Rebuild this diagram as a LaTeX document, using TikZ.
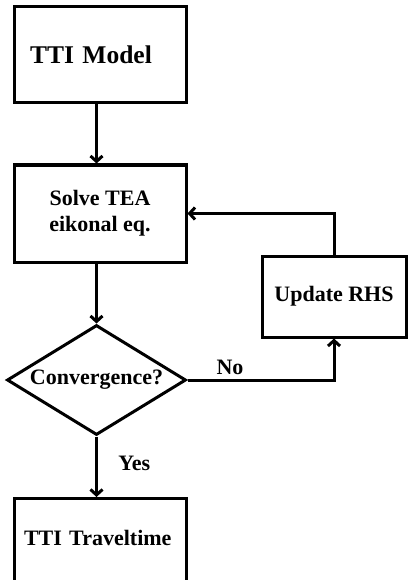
\documentclass[tikz,border=0pt]{standalone}
\usepackage{fontspec}
\setmainfont{Liberation Serif}
\usetikzlibrary{shapes.geometric,arrows.meta,positioning,calc}

\begin{document}
\begin{tikzpicture}[x=1pt, y=1pt, line width=3pt,
    font=\bfseries\fontsize{22pt}{26pt}\selectfont,
    >={Straight Barb[length=5.5pt,width=12pt]}]
   \useasboundingbox (0,0) rectangle (407,-580);
   \begin{scope}[every node/.style={draw,rectangle,inner sep=0pt,minimum width=172pt}]
    \node (model) [minimum height=96pt, text width=140pt, align=left,
                   font=\bfseries\fontsize{25.5pt}{30pt}\selectfont] at (100,-55) {TTI Model};
    \node (solve) [minimum height=97pt, align=center] at (100,-213.5) {Solve TEA\\eikonal eq.};
    \node (update) [minimum width=144pt, minimum height=81pt] at (334,-296.5) {Update RHS};
    \node (travel) [anchor=north, text width=152pt, align=left, inner ysep=32pt,
                    text depth=30pt] at (100,-497) {TTI Traveltime};
   \end{scope}
   \node (check) [draw, diamond, aspect=1.63, inner sep=0pt,
                  minimum width=179pt, minimum height=110pt] at (96.5,-380) {Convergence?};
   \begin{scope}[->]
    \draw (model.south -| check) -- (solve.north -| check);
    \draw (solve.south -| check) -- (check.north);
    \draw (check.east) -| node[pos=0.145, above] {No} (update.south);
    \draw (update.north) |- (solve.east);
    \draw (check.south) -- node[pos=0.45, right=17pt] {Yes} (travel.north -| check);
   \end{scope}
\end{tikzpicture}
\end{document}
